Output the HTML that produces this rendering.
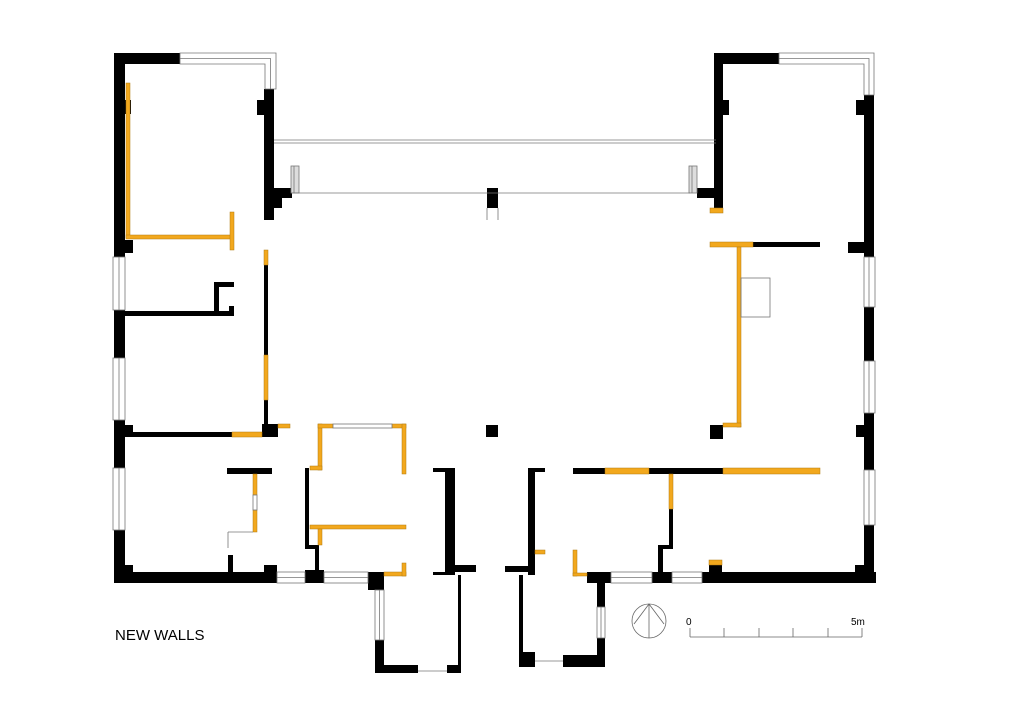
<!DOCTYPE html>
<html><head><meta charset="utf-8"><style>body{margin:0;background:#fff}svg{display:block}</style></head><body>
<svg width="1024" height="723" viewBox="0 0 1024 723" xmlns="http://www.w3.org/2000/svg">
<g fill="#000">
<rect x="114" y="53" width="66" height="11"/>
<rect x="114" y="53" width="11" height="204"/>
<rect x="114" y="310" width="11" height="48"/>
<rect x="114" y="420" width="11" height="48"/>
<rect x="114" y="530" width="11" height="53"/>
<rect x="114" y="572" width="163" height="11"/>
<rect x="125" y="100" width="6" height="14"/>
<rect x="125" y="240" width="8" height="13"/>
<rect x="125" y="425" width="8" height="12"/>
<rect x="125" y="565" width="8" height="8"/>
<rect x="264" y="89" width="10" height="131"/>
<rect x="257" y="100" width="8" height="15"/>
<rect x="274" y="188" width="18" height="10"/>
<rect x="274" y="198" width="8" height="10"/>
<rect x="268" y="208" width="6" height="12"/>
<rect x="264" y="265" width="4" height="90"/>
<rect x="264" y="400" width="4" height="37"/>
<rect x="262" y="424" width="16" height="13"/>
<rect x="125" y="432" width="107" height="5"/>
<rect x="125" y="311" width="107" height="5"/>
<rect x="214" y="282" width="5" height="34"/>
<rect x="214" y="282" width="20" height="5"/>
<rect x="229" y="306" width="5" height="10"/>
<rect x="227" y="468" width="45" height="6"/>
<rect x="228" y="555" width="5" height="17"/>
<rect x="264" y="565" width="13" height="8"/>
<rect x="305" y="468" width="4" height="80"/>
<rect x="305" y="545" width="14" height="4"/>
<rect x="315" y="548" width="4" height="24"/>
<rect x="305" y="570" width="19" height="13"/>
<rect x="368" y="572" width="16" height="18"/>
<rect x="375" y="640" width="9" height="33"/>
<rect x="375" y="665" width="43" height="8"/>
<rect x="447" y="665" width="14" height="8"/>
<rect x="458" y="575" width="3" height="98"/>
<rect x="445" y="468" width="10" height="107"/>
<rect x="433" y="468" width="22" height="4"/>
<rect x="446" y="565" width="30" height="7"/>
<rect x="433" y="572" width="14" height="3"/>
<rect x="486" y="425" width="12" height="12"/>
<rect x="487" y="188" width="11" height="20"/>
<rect x="528" y="468" width="7" height="107"/>
<rect x="528" y="468" width="17" height="4"/>
<rect x="505" y="566" width="30" height="6"/>
<rect x="519" y="575" width="4" height="90"/>
<rect x="519" y="652" width="16" height="15"/>
<rect x="563" y="655" width="42" height="12"/>
<rect x="597" y="575" width="8" height="32"/>
<rect x="597" y="638" width="8" height="29"/>
<rect x="587" y="572" width="24" height="11"/>
<rect x="573" y="468" width="32" height="6"/>
<rect x="649" y="468" width="74" height="6"/>
<rect x="669" y="509" width="4" height="38"/>
<rect x="658" y="545" width="15" height="4"/>
<rect x="658" y="545" width="5" height="30"/>
<rect x="652" y="572" width="20" height="11"/>
<rect x="702" y="572" width="174" height="11"/>
<rect x="709" y="565" width="13" height="10"/>
<rect x="855" y="565" width="10" height="10"/>
<rect x="714" y="53" width="65" height="11"/>
<rect x="714" y="53" width="9" height="157"/>
<rect x="723" y="100" width="6" height="15"/>
<rect x="697" y="188" width="26" height="10"/>
<rect x="864" y="95" width="10" height="162"/>
<rect x="856" y="100" width="8" height="15"/>
<rect x="848" y="242" width="16" height="11"/>
<rect x="753" y="242" width="67" height="5"/>
<rect x="864" y="307" width="10" height="54"/>
<rect x="864" y="413" width="10" height="57"/>
<rect x="856" y="425" width="8" height="12"/>
<rect x="864" y="525" width="10" height="58"/>
<rect x="710" y="425" width="13" height="14"/>
</g>
<g fill="#f2a81d" stroke="#b07a10" stroke-width="0.5">
<rect x="126" y="83" width="4" height="155"/>
<rect x="126" y="235" width="106" height="4"/>
<rect x="230" y="212" width="4" height="38"/>
<rect x="264" y="250" width="4" height="15"/>
<rect x="264" y="355" width="4" height="45"/>
<rect x="278" y="424" width="12" height="4"/>
<rect x="232" y="432" width="30" height="5"/>
<rect x="253" y="474" width="4" height="21"/>
<rect x="253" y="510" width="4" height="22"/>
<rect x="318" y="424" width="4" height="46"/>
<rect x="310" y="466" width="12" height="4"/>
<rect x="318" y="424" width="15" height="4"/>
<rect x="392" y="424" width="14" height="4"/>
<rect x="402" y="424" width="4" height="50"/>
<rect x="310" y="525" width="96" height="4"/>
<rect x="318" y="529" width="4" height="16"/>
<rect x="384" y="572" width="22" height="4"/>
<rect x="402" y="563" width="4" height="13"/>
<rect x="535" y="550" width="10" height="4"/>
<rect x="573" y="550" width="4" height="26"/>
<rect x="573" y="573" width="14" height="3"/>
<rect x="605" y="468" width="44" height="6"/>
<rect x="723" y="468" width="97" height="6"/>
<rect x="669" y="474" width="4" height="35"/>
<rect x="709" y="560" width="13" height="5"/>
<rect x="710" y="208" width="13" height="5"/>
<rect x="710" y="242" width="43" height="5"/>
<rect x="737" y="247" width="4" height="180"/>
<rect x="723" y="423" width="18" height="4"/>
</g>
<g fill="#fff" stroke="#777" stroke-width="0.8">
<path d="M180 53 H276 V89 H265 V64 H180 Z"/>
<path d="M180 58.5 H270.5 V89" fill="none"/>
<path d="M779 53 H874 V95 H864 V64 H779 Z"/>
<path d="M779 58.5 H869 V95" fill="none"/>
<rect x="113" y="257" width="12" height="53"/>
<rect x="113" y="358" width="12" height="62"/>
<rect x="113" y="468" width="12" height="62"/>
<rect x="864" y="257" width="11" height="50"/>
<rect x="864" y="361" width="11" height="52"/>
<rect x="864" y="470" width="11" height="55"/>
<rect x="277" y="572" width="28" height="11"/>
<rect x="324" y="572" width="44" height="11"/>
<rect x="375" y="590" width="9" height="50"/>
<rect x="597" y="607" width="8" height="31"/>
<rect x="611" y="572" width="41" height="11"/>
<rect x="672" y="572" width="30" height="11"/>
<rect x="333" y="424" width="59" height="4"/>
<rect x="291" y="166" width="8" height="27" fill="#ddd"/>
<rect x="689" y="166" width="8" height="27" fill="#ddd"/>
<rect x="741" y="278" width="29" height="39" fill="none"/>
<rect x="253" y="495" width="4" height="15"/>
</g>
<g stroke="#777" stroke-width="0.8" fill="none">
<path d="M119 257V310M119 358V420M119 468V530M869 257V307M869 361V413M869 470V525"/>
<path d="M277 577.5H305M324 577.5H368M611 577.5H652M672 577.5H702M379.5 590V640M601 607V638"/>
<path d="M274 140H716M274 143H716M299 193H690M291 193H299"/>
<path d="M228 532V548M228 532H253M418 671H447M535 661H563M487 208V220M498 208V220"/>
<path d="M294 166V193M692 166V193"/>
</g>
<g stroke="#666" stroke-width="0.8" fill="none">
<circle cx="649" cy="621" r="17"/>
<path d="M649 604V638M649 604L634 624M649 604L664 624"/>
<path d="M690 637H862M690 628V637M724 628V637M759 628V637M793 628V637M828 628V637M862 628V637"/>
</g>
<g font-family="Liberation Sans, sans-serif" fill="#000">
<text x="686" y="625" font-size="10">0</text>
<text x="851" y="625" font-size="10">5m</text>
<text x="115" y="640" font-size="15">NEW WALLS</text>
</g>
</svg>
</body></html>
